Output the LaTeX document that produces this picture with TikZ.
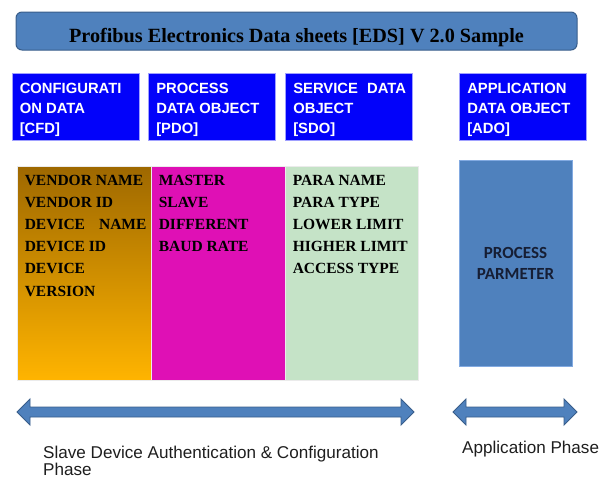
\documentclass[tikz,border=0pt]{standalone}
\usepackage{fontspec}
\setmainfont{Liberation Serif}
\newfontfamily\hdrfont{Liberation Sans}[BoldFont={Liberation Sans Bold}]
\newfontfamily\parfont{Carlito}[BoldFont={Carlito Bold}]
\usetikzlibrary{calc}

\definecolor{titleblue}{RGB}{79,129,189}
\definecolor{titleedge}{RGB}{56,93,138}
\definecolor{hdrblue}{RGB}{2,2,250}
\definecolor{hdredge}{RGB}{160,160,255}
\definecolor{cfdtop}{RGB}{158,104,0}
\definecolor{cfdbot}{RGB}{255,180,0}
\definecolor{pdofill}{RGB}{223,16,181}
\definecolor{sdofill}{RGB}{197,227,199}
\definecolor{coledge}{RGB}{235,235,235}
\definecolor{adoedge}{RGB}{130,170,225}
\definecolor{textnavy}{RGB}{22,30,52}
\definecolor{labelgray}{RGB}{30,30,30}

\tikzset{
  titlebar/.style={draw=titleedge, line width=1pt, fill=titleblue, rounded corners=6pt,
    minimum width=561pt, minimum height=38pt, inner sep=0pt},
  titletext/.style={inner sep=0pt, anchor=base,
    font=\bfseries\fontsize{20.2}{24}\selectfont},
  hdrbox/.style={draw=hdredge, line width=0.8pt, fill=hdrblue,
    minimum width=127pt, minimum height=67pt, inner sep=0pt},
  hdrtext/.style={anchor=north west, inner sep=0pt, text=white, align=left,
    font=\hdrfont\bfseries\fontsize{14.8}{20}\selectfont},
  colbox/.style={draw=coledge, line width=0.8pt, minimum width=134pt,
    minimum height=214pt, inner sep=0pt},
  coltext/.style={anchor=north west, inner sep=0pt, align=left,
    font=\bfseries\fontsize{15.5}{22.2}\selectfont},
  adobox/.style={draw=adoedge, line width=0.8pt, fill=titleblue,
    minimum width=113pt, minimum height=206pt, inner sep=0pt, align=center,
    text=textnavy, font=\parfont\bfseries\fontsize{17}{21}\selectfont},
  bigarrow/.style={draw=titleedge, line width=0.9pt, fill=titleblue, line join=miter},
  phase/.style={inner sep=0pt, align=left, text=labelgray,
    font=\hdrfont\fontsize{17.1}{17}\selectfont}
}

\begin{document}
\begin{tikzpicture}[x=1pt,y=-1pt]
\useasboundingbox (0,0) rectangle (611,479);

% title bar
\node[titlebar] (title) at (296.5,31) {};
\node[titletext] (titlel) at (296.5,42) {Profibus Electronics Data sheets [EDS] V 2.0 Sample};

% section headers
\node[hdrbox] (cfdh) at (75.5,107) {};
\node[hdrbox] (pdoh) at (212,107) {};
\node[hdrbox] (sdoh) at (349,107) {};
\node[hdrbox] (adoh) at (523,107) {};
\node[hdrtext] (cfdl) at ($(cfdh.north west)+(8,10)$) {CONFIGURATI\\ON DATA\\[0pt][CFD]};
\node[hdrtext] (pdol) at ($(pdoh.north west)+(8,10)$) {PROCESS\\DATA OBJECT\\[0pt][PDO]};
\node[hdrtext] (sdol) at ($(sdoh.north west)+(8,10)$) {SERVICE\hspace{5pt} DATA\\OBJECT\\[0pt][SDO]};
\node[hdrtext] (adol) at ($(adoh.north west)+(8,10)$) {APPLICATION\\DATA OBJECT\\[0pt][ADO]};

% data columns
\node[colbox, top color=cfdtop, bottom color=cfdbot] (cfd) at (84,273) {};
\node[colbox, fill=pdofill] (pdo) at (218,273) {};
\node[colbox, fill=sdofill, minimum width=133pt] (sdo) at (351.5,273) {};

\node[coltext] (cfdt) at ($(cfd.north west)+(8,9)$)
  {VENDOR NAME\\VENDOR ID\\DEVICE\hspace*{14pt}NAME\\DEVICE ID\\DEVICE\\VERSION};
\node[coltext] (pdot) at ($(pdo.north west)+(8,9)$)
  {MASTER\\SLAVE\\DIFFERENT\\BAUD RATE};
\node[coltext] (sdot) at ($(sdo.north west)+(8,9)$)
  {PARA NAME\\PARA TYPE\\LOWER LIMIT\\HIGHER LIMIT\\ACCESS TYPE};

% application data object
\node[adobox] (ado) at (515.5,263) {PROCESS\\PARMETER};

% phase arrows
\draw[bigarrow] (17,412) -- (30,399) -- (30,407) -- (401,407) -- (401,399) -- (414,412)
  -- (401,425) -- (401,417) -- (30,417) -- (30,425) -- cycle;
\draw[bigarrow] (453,412) -- (466,399) -- (466,407) -- (564,407) -- (564,399) -- (577,412)
  -- (564,425) -- (564,417) -- (466,417) -- (466,425) -- cycle;

% phase labels
\node[phase, anchor=base west] (cfgphase) at (43,475.5)
  {Slave Device Authentication \& Configuration\\Phase};
\node[phase, anchor=base west] (appphase) at (462,453) {Application Phase};
\end{tikzpicture}
\end{document}
